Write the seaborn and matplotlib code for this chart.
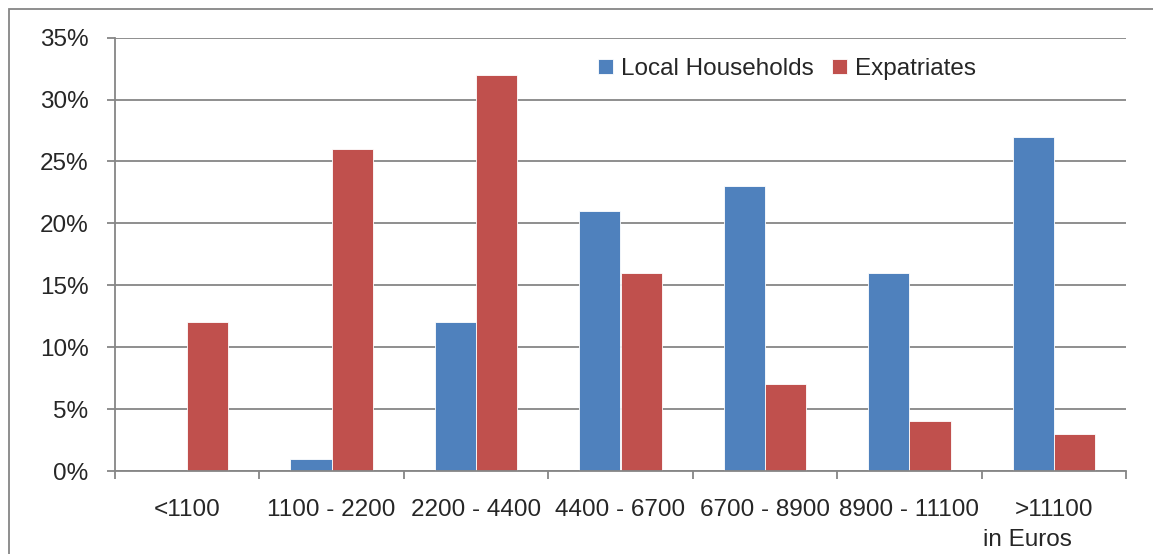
import matplotlib
matplotlib.use("Agg")
import matplotlib.pyplot as plt
import matplotlib.ticker as mticker
from matplotlib.patches import Rectangle
import seaborn as sns
import pandas as pd

categories = ["<1100", "1100 - 2200", "2200 - 4400", "4400 - 6700", "6700 - 8900", "8900 - 11100", ">11100"]
local_households = [0, 1, 12, 21, 23, 16, 27]
expatriates = [12, 26, 32, 16, 7, 4, 3]
series_names = ["Local Households", "Expatriates"]
colors = ["#4F81BD", "#C0504D"]

df = pd.DataFrame({
    "cat": categories * 2,
    "val": [v / 100 for v in local_households] + [v / 100 for v in expatriates],
    "series": [series_names[0]] * len(categories) + [series_names[1]] * len(categories),
})

sns.set_style("white")
plt.rcParams["font.family"] = ["Liberation Sans", "DejaVu Sans"]

W, H = 1153, 554
fig = plt.figure(figsize=(W / 100, H / 100), dpi=100)
ax = fig.add_axes([115 / W, 1 - 471 / H, (1126 - 115) / W, (471 - 37.7) / H])

sns.barplot(data=df, x="cat", y="val", hue="series", palette=colors, saturation=1,
            width=0.57, ax=ax, order=categories, hue_order=series_names, legend=True,
            linewidth=0.6, edgecolor="white")

gc = "#868686"
ax.set_ylim(0, 0.35)
ax.set_xlim(-0.5, len(categories) - 0.5)
ax.yaxis.set_major_locator(mticker.MultipleLocator(0.05))
ax.yaxis.set_major_formatter(mticker.PercentFormatter(1.0, decimals=0))
ax.yaxis.grid(True, color=gc, linewidth=1.3)
ax.set_axisbelow(True)
for s in ["top", "right"]:
    ax.spines[s].set_visible(False)
for s in ["left", "bottom"]:
    ax.spines[s].set_color(gc)
    ax.spines[s].set_linewidth(1.3)

ax.tick_params(axis="y", length=6, width=1.3, color=gc, labelsize=17.5, pad=13, left=True)
ax.tick_params(axis="x", which="major", length=0, labelsize=17.5, pad=20)
ax.set_xticks([i - 0.5 for i in range(len(categories) + 1)], minor=True)
ax.tick_params(axis="x", which="minor", length=6, width=1.3, color=gc, bottom=True)
ax.set_xlabel("")
ax.set_ylabel("")

leg = ax.legend(loc="upper left", bbox_to_anchor=(598 / W, 1 - 58 / H), bbox_transform=fig.transFigure,
                frameon=False, ncol=2, fontsize=17.5, handlelength=0.6, handleheight=0.6,
                handletextpad=0.35, columnspacing=0.75, borderaxespad=0, borderpad=0)

fig.text(1027 / W, 1 - 540 / H, "in Euros", ha="center", va="center", fontsize=17.5)

fig.patches.append(Rectangle((9 / W, -0.1), 1.2, 1.1 - 9 / H, transform=fig.transFigure,
                             fill=False, edgecolor=gc, linewidth=1.3, clip_on=False))

fig.savefig("out.png", dpi=100, facecolor="white")
